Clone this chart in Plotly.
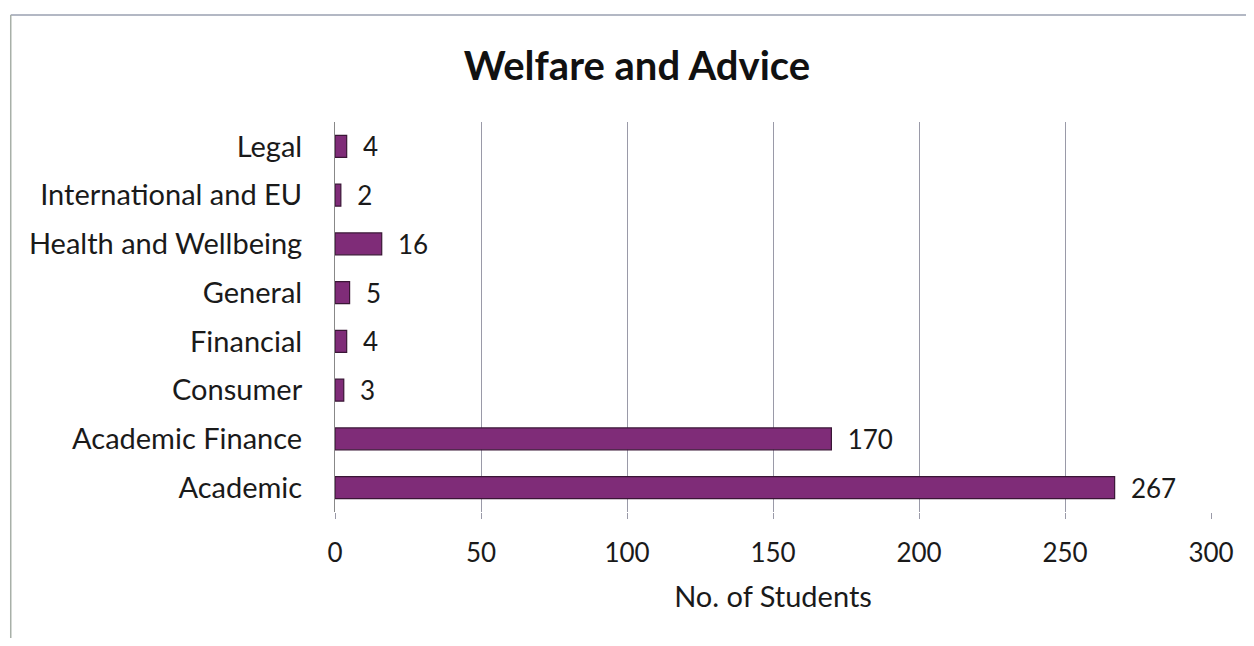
import plotly.graph_objects as go

categories = ["Academic", "Academic Finance", "Consumer", "Financial", "General",
              "Health and Wellbeing", "International and EU", "Legal"]
values = [267, 170, 3, 4, 5, 16, 2, 4]
x_ticks = [0, 50, 100, 150, 200, 250, 300]

FONT = "Lato, Open Sans, sans-serif"

fig = go.Figure(go.Bar(
    y=categories, x=values, orientation="h",
    marker=dict(color="#7F2C78", line=dict(color="#3a1636", width=1.2)),
    text=["\u00a0\u00a0" + str(v) for v in values], textposition="outside", constraintext="none",
    textfont=dict(size=26, color="#1a1a1a", family=FONT),
    cliponaxis=False,
))

fig.update_layout(
    width=1238, height=630,
    paper_bgcolor="white", plot_bgcolor="white",
    margin=dict(l=327, r=33, t=114, b=126),
    bargap=0.55,
    title=dict(text="<b>Welfare and Advice</b>", x=0.508, xanchor="center",
               yref="container", y=1 - 58/630, yanchor="middle",
               font=dict(size=40, color="#111", family=FONT)),
    font=dict(family=FONT, size=29, color="#1a1a1a"),
    showlegend=False,
)
fig.update_xaxes(
    range=[0, 300], tickvals=x_ticks, showgrid=True, gridcolor="#9a9aa8", gridwidth=1,
    zeroline=False, showline=False, ticks="outside", ticklen=6, tickcolor="#9a9aa8",
    tickfont=dict(size=26), ticklabelstandoff=12,
    title=dict(text="No. of Students", font=dict(size=29), standoff=19),
)
fig.update_yaxes(
    showline=True, linecolor="#888", linewidth=1, ticks="", ticklabelstandoff=26,
    tickfont=dict(size=29),
)
# chart border (top and left edges visible)
fig.add_shape(type="line", xref="paper", yref="paper", x0=-325/878, x1=1300/878,
              y0=1 + 107/390, y1=1 + 107/390, line=dict(color="#9aa0b0", width=1.5))
fig.add_shape(type="line", xref="paper", yref="paper", x0=-325/878, x1=-325/878,
              y0=1 + 107/390, y1=-140/390, line=dict(color="#a8b0a8", width=1.5))

fig.write_html("out.html")
